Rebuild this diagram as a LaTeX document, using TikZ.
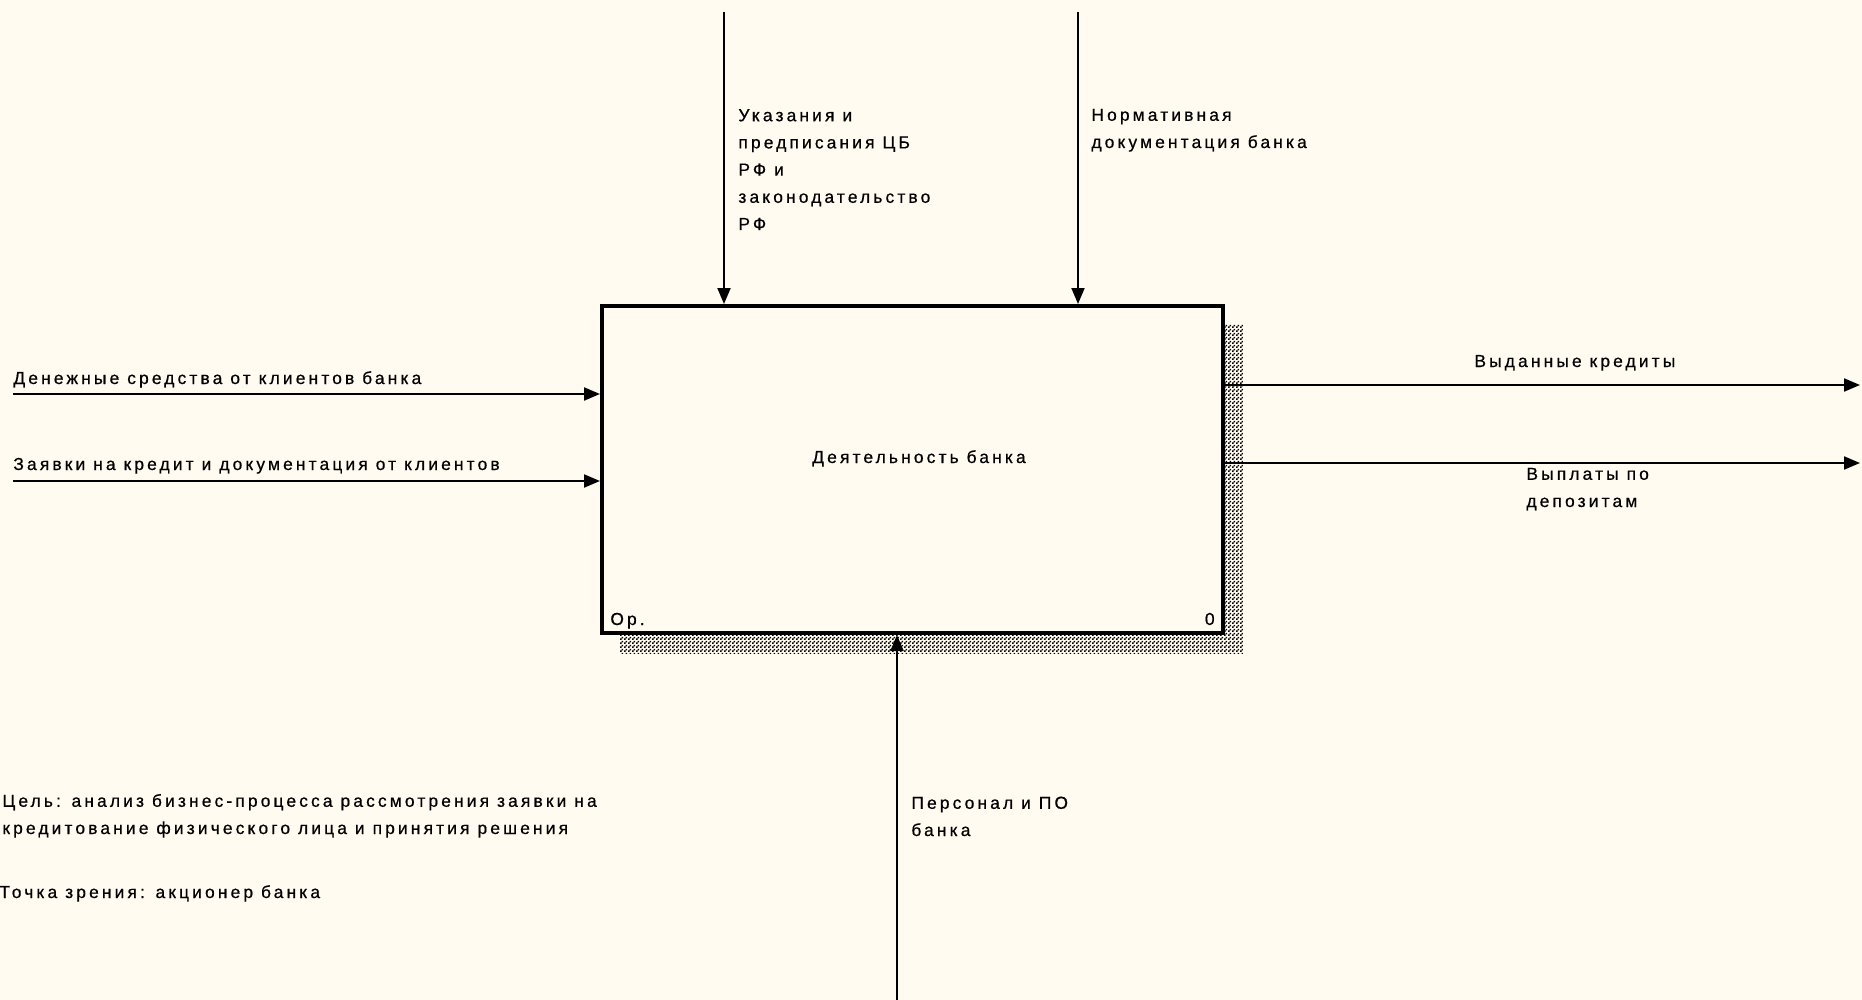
\documentclass[tikz,border=0pt]{standalone}
\usepackage{fontspec}
\setmainfont{Liberation Sans}[LetterSpace=18,FakeBold=0.6]
\usetikzlibrary{arrows.meta,patterns}
\definecolor{paper}{RGB}{255,251,240}
\pgfdeclarepatternformonly{shadowdots}{\pgfqpoint{0pt}{0pt}}{\pgfqpoint{2pt}{2pt}}{\pgfqpoint{2pt}{2pt}}{%
  \pgfpathrectangle{\pgfqpoint{0pt}{0pt}}{\pgfqpoint{1pt}{1pt}}%
  \pgfpathrectangle{\pgfqpoint{1pt}{1pt}}{\pgfqpoint{1pt}{1pt}}%
  \pgfusepath{fill}}
\tikzset{
  flow/.style={line width=1pt,-{Triangle[length=8pt,width=6.5pt]}},
  lbl/.style={anchor=base west,inner sep=0pt,align=left,font=\fontsize{8.7pt}{13.6pt}\selectfont},
  actbox/.style={draw,line width=2pt,fill=paper,minimum width=310.5pt,minimum height=163.5pt,inner sep=0pt},
}
\begin{document}
\begin{tikzpicture}[x=0.5pt,y=-0.5pt,every node/.style={black}]
	\useasboundingbox[fill=paper] (0,0) rectangle (1862,1000);

%	shadow and box
	\fill[pattern=shadowdots,pattern color=black] (620,324) rectangle (1243,653);
	\node (act) [actbox] at (912.5,469.5) {};
	\node (acttext) [lbl,anchor=base] at (919,463) {Деятельность банка};
	\node (actref) [lbl] at (610,625) {Ор.};
	\node (actnum) [lbl,anchor=base east] at (1215,625) {0};

%	free ends
	\coordinate (c1) at (724,12);
	\coordinate (c2) at (1078,12);
	\coordinate (i1) at (13,394);
	\coordinate (i2) at (13,481);
	\coordinate (o1) at (1860,385);
	\coordinate (o2) at (1860,463);
	\coordinate (m1) at (897,1000);

	\draw[flow] (c1) -- (c1 |- act.north);
	\draw[flow] (c2) -- (c2 |- act.north);
	\draw[flow] (i1) -- (i1 -| act.west);
	\draw[flow] (i2) -- (i2 -| act.west);
	\draw[flow] (act.east |- o1) -- (o1);
	\draw[flow] (act.east |- o2) -- (o2);
	\draw[flow] (m1) -- (m1 |- act.south);

%	labels (base = last line)
	\node (c1text) [lbl] at (738,230) {Указания и\\предписания ЦБ\\РФ и\\законодательство\\РФ};
	\node (c2text) [lbl] at (1091,148) {Нормативная\\документация банка};
	\node (i1text) [lbl] at (13,384) {Денежные средства от клиентов банка};
	\node (i2text) [lbl] at (13,470) {Заявки на кредит и документация от клиентов};
	\node (o1text) [lbl] at (1474,367) {Выданные кредиты};
	\node (o2text) [lbl] at (1526,507) {Выплаты по\\депозитам};
	\node (m1text) [lbl] at (911,836) {Персонал и ПО\\банка};

	\node (goal) [lbl] at (2,834) {Цель: анализ бизнес-процесса рассмотрения заявки на\\кредитование физического лица и принятия решения};
	\node (view) [lbl] at (-1,898) {Точка зрения: акционер банка};
\end{tikzpicture}
\end{document}
